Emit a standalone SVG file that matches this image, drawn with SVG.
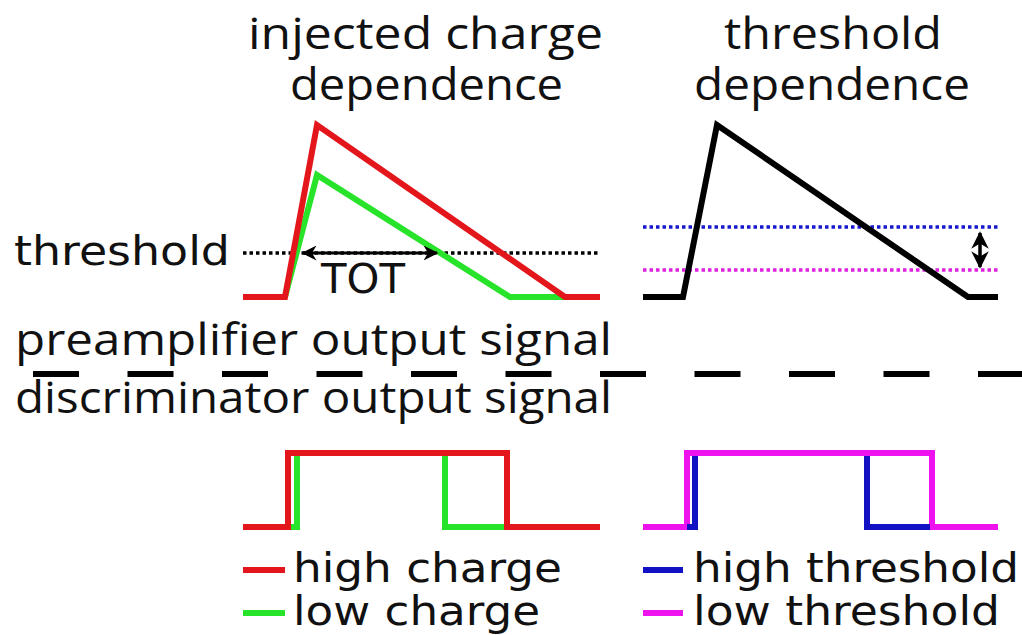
<svg xmlns="http://www.w3.org/2000/svg" width="1022" height="635" viewBox="0 0 1022 635">
<style>
text{font-family:"DejaVu Sans","Open Sans",sans-serif;fill:#111}
.t{font-size:44px;font-family:"Open Sans","DejaVu Sans",sans-serif}
.l{font-size:40px}
.sig{fill:none;stroke-width:6;stroke-linejoin:miter;stroke-linecap:butt}
.red{stroke:#e3161b}.green{stroke:#27e32a}.blue{stroke:#1212c4}.mag{stroke:#ee12ee}.blk{stroke:#000}
.dot{fill:none;stroke-width:3.5;stroke-dasharray:3.5 3}
</style>
<defs>
<marker id="ah" viewBox="0 0 10 10" refX="9" refY="5" markerWidth="5" markerHeight="5" orient="auto-start-reverse" markerUnits="strokeWidth">
<path d="M0,0 L10,5 L0,10 L3,5 z" fill="#000"/>
</marker>
</defs>
<rect width="1022" height="635" fill="#fff"/>
<g id="titles">
<text class="t" x="248" y="49" textLength="355" lengthAdjust="spacingAndGlyphs">injected charge</text>
<text class="t" x="290" y="100" textLength="273" lengthAdjust="spacingAndGlyphs">dependence</text>
<text class="t" x="724" y="49" textLength="218" lengthAdjust="spacingAndGlyphs">threshold</text>
<text class="t" x="694" y="100" textLength="276" lengthAdjust="spacingAndGlyphs">dependence</text>
</g>
<g id="threshold-label">
<text class="l" x="14" y="265" textLength="216" lengthAdjust="spacingAndGlyphs">threshold</text>
</g>
<g id="preamp-charge">
<line class="dot" x1="243" y1="253" x2="598" y2="253" stroke="#000"/>
<polyline class="sig green" points="285,297 317,175 510,297 565,297"/>
<polyline class="sig red" points="243,297 285,297 317,125 565,297 600,297"/>
<line x1="303" y1="253" x2="437" y2="253" stroke="#000" stroke-width="3" marker-start="url(#ah)" marker-end="url(#ah)"/>
<text class="l" x="363" y="293" text-anchor="middle" textLength="84" lengthAdjust="spacingAndGlyphs">TOT</text>
</g>
<g id="preamp-threshold">
<line class="dot" x1="643" y1="227" x2="998" y2="227" stroke="#1818d0"/>
<line class="dot" x1="643" y1="270" x2="998" y2="270" stroke="#e020e0"/>
<polyline class="sig blk" points="643,297 683,297 717,125 968,297 998,297"/>
<line x1="980" y1="233" x2="980" y2="267" stroke="#000" stroke-width="3.5" marker-start="url(#ah)" marker-end="url(#ah)"/>
</g>
<g id="section-labels">
<text class="t" x="15" y="355" textLength="597" lengthAdjust="spacingAndGlyphs">preamplifier output signal</text>
<line x1="33" y1="374" x2="1022" y2="374" stroke="#000" stroke-width="6" stroke-dasharray="46 48.5"/>
<text class="t" x="15" y="413" textLength="597" lengthAdjust="spacingAndGlyphs">discriminator output signal</text>
</g>
<g id="disc-charge">
<polyline class="sig green" points="288,527 297,527 297,453 445,453 445,527 507,527"/>
<polyline class="sig red" points="243,527 288,527 288,453 507,453 507,527 600,527"/>
</g>
<g id="disc-threshold">
<polyline class="sig mag" points="643,527 687,527 687,453 932,453 932,527 998,527"/>
<path class="sig blue" d="M687,527 H695 V456 M867,456 V527 H930"/>
</g>
<g id="legend">
<line x1="243" y1="570" x2="285" y2="570" stroke="#e3161b" stroke-width="6"/>
<text class="l" x="293" y="582" textLength="269" lengthAdjust="spacingAndGlyphs">high charge</text>
<line x1="243" y1="613" x2="285" y2="613" stroke="#27e32a" stroke-width="6"/>
<text class="l" x="293" y="625" textLength="247" lengthAdjust="spacingAndGlyphs">low charge</text>
<line x1="643" y1="570" x2="683" y2="570" stroke="#1212c4" stroke-width="6"/>
<text class="l" x="693" y="582" textLength="326" lengthAdjust="spacingAndGlyphs">high threshold</text>
<line x1="643" y1="613" x2="683" y2="613" stroke="#ee12ee" stroke-width="6"/>
<text class="l" x="693" y="625" textLength="307" lengthAdjust="spacingAndGlyphs">low threshold</text>
</g>
</svg>
